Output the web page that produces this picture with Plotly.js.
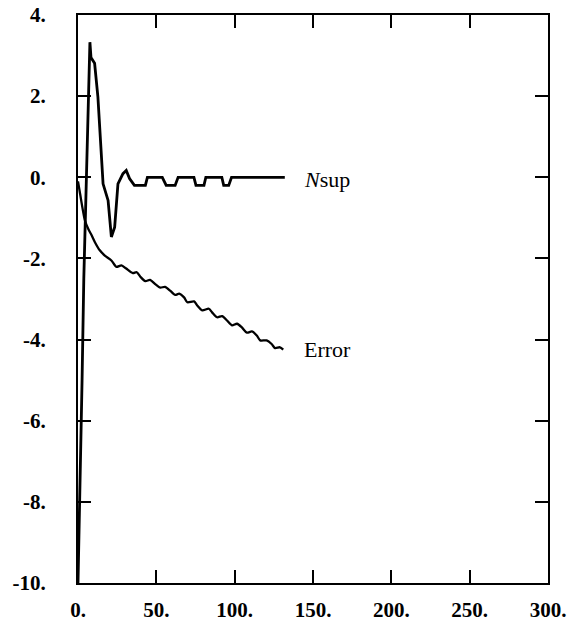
<!DOCTYPE html>
<html>
<head>
<meta charset="utf-8">
<script src="https://cdn.plot.ly/plotly-3.0.1.min.js"></script>
<style>html,body{margin:0;padding:0;background:#fff;}#chart{width:569px;height:632px;}</style>
</head>
<body>
<div id="chart"></div>
<script>
// Nsup series
const nsupX = [0, 1.5, 2.6, 3.7, 5.7, 7.6, 8.3, 10.6, 12.7, 16, 19.2, 21.3, 23.4, 25.5, 28.7, 30.8, 32.9, 36, 43, 44.3, 53.8, 56.3, 62, 63.9, 74, 75.3, 80.4, 81.6, 91.8, 93, 96.2, 98, 132];
const nsupY = [-10, -7.5, -5, -2.5, 0.67, 3.33, 2.95, 2.81, 1.98, -0.16, -0.57, -1.47, -1.23, -0.16, 0.09, 0.17, -0.03, -0.2, -0.2, 0, 0, -0.2, -0.2, 0, 0, -0.2, -0.2, 0, 0, -0.2, -0.2, 0, 0];

// Error series
const errX = [0, 1.3, 4.4, 6.5, 8.7, 10.8, 13.9, 17.1, 21.3, 24.5, 27.7, 30.8, 35, 37.5, 40, 43, 46, 49.5, 52.5, 55.5, 59, 62, 64.6, 67.7, 69.8, 74.1, 76.1, 79.3, 83.5, 85.6, 88.8, 92, 95.1, 98.3, 101.5, 104.6, 107.8, 111, 114.1, 116.3, 120.4, 123.6, 125.8, 128.9, 131];
const errY = [-0.1, -0.40, -1.06, -1.27, -1.43, -1.60, -1.80, -1.93, -2.05, -2.21, -2.17, -2.25, -2.36, -2.34, -2.46, -2.56, -2.53, -2.64, -2.72, -2.70, -2.80, -2.90, -2.87, -2.96, -3.08, -3.06, -3.16, -3.28, -3.24, -3.33, -3.45, -3.42, -3.53, -3.65, -3.61, -3.70, -3.83, -3.80, -3.90, -4.02, -4.02, -4.11, -4.21, -4.19, -4.25];

// Tick labels
const xTickVals = [0, 50, 100, 150, 200, 250, 300];
const xTickText = ["0.", "50.", "100.", "150.", "200.", "250.", "300."];
const yTickVals = [4, 2, 0, -2, -4, -6, -8, -10];
const yTickText = ["4.", "2.", "0.", "-2.", "-4.", "-6.", "-8.", "-10."];

// Curve labels
const curveLabels = [
  {text: "<i>N</i>sup", x: 143, y: -0.05},
  {text: "Error", x: 143, y: -4.25}
];

const serif = "Liberation Serif, Times New Roman, serif";

const traces = [
  {x: nsupX, y: nsupY, mode: "lines", line: {color: "#000", width: 2.8}, hoverinfo: "skip"},
  {x: errX, y: errY, mode: "lines", line: {color: "#000", width: 2.3, shape: "spline", smoothing: 0.7}, hoverinfo: "skip"}
];

const axisCommon = {
  showgrid: false, zeroline: false, showline: true, linecolor: "#000", linewidth: 2,
  mirror: "ticks", ticks: "inside", ticklen: 13, tickwidth: 2, tickcolor: "#000",
  tickfont: {family: serif, size: 21, color: "#000", weight: "bold"}
};

const layout = {
  width: 569, height: 632,
  margin: {l: 78, r: 21, t: 15, b: 49, pad: 0},
  paper_bgcolor: "#fff", plot_bgcolor: "#fff",
  showlegend: false,
  xaxis: Object.assign({}, axisCommon, {range: [0, 300], tickvals: xTickVals, ticktext: xTickText, ticklabelstandoff: 7}),
  yaxis: Object.assign({}, axisCommon, {range: [-10, 4], tickvals: yTickVals, ticktext: yTickText, ticklabelstandoff: 26}),
  annotations: curveLabels.map(l => ({
    text: l.text, x: l.x, y: l.y, xref: "x", yref: "y", xanchor: "left", yanchor: "middle",
    showarrow: false, font: {family: serif, size: 22, color: "#000"}
  }))
};

Plotly.newPlot("chart", traces, layout, {staticPlot: true, displayModeBar: false});
</script>
</body>
</html>
